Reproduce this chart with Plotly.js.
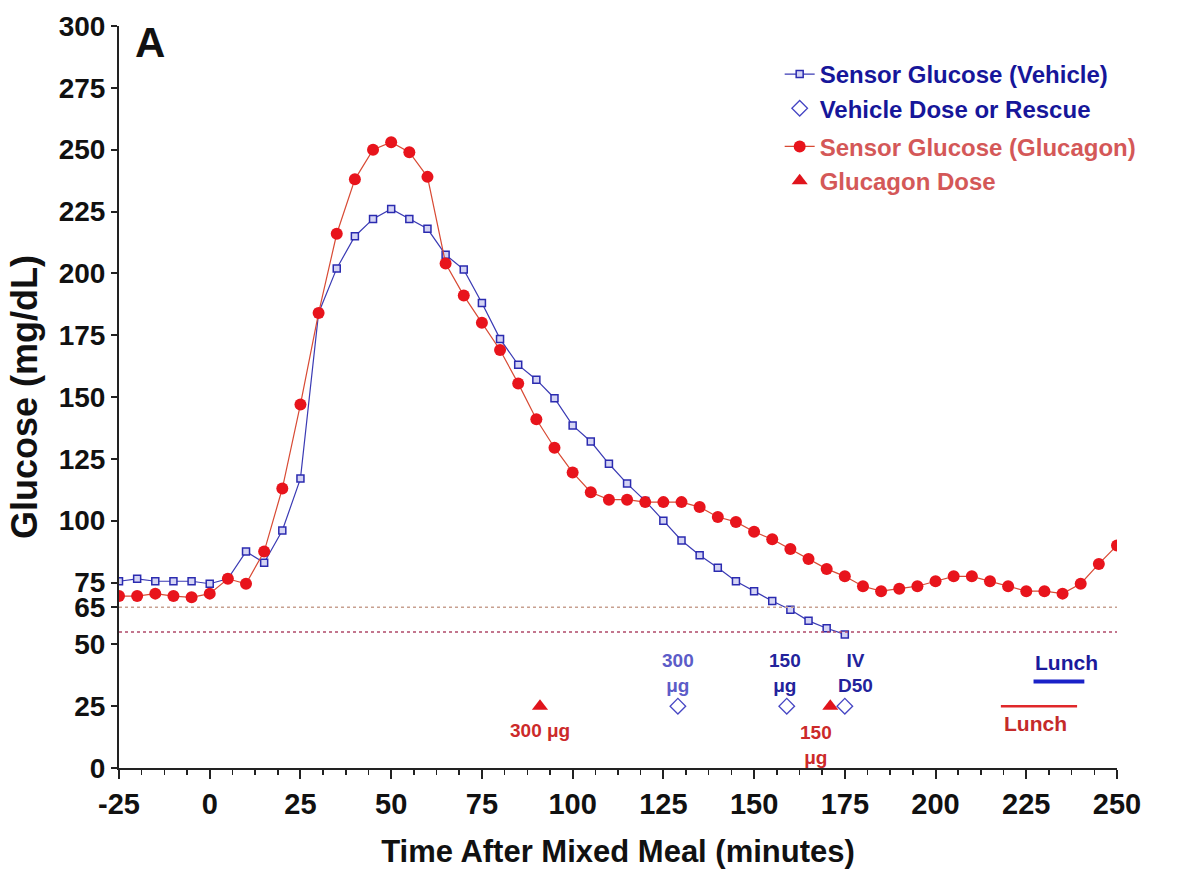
<!DOCTYPE html>
<html>
<head>
<meta charset="utf-8">
<script src="https://cdn.plot.ly/plotly-3.0.1.min.js"></script>
<style>html,body{margin:0;padding:0;background:#fff;}#chart{width:1182px;height:871px;}</style>
</head>
<body>
<div id="chart"></div>
<script>
// Time points (minutes after mixed meal)
const vehicleTime = [-25,-20,-15,-10,-5,0,5,10,15,20,25,30,35,40,45,50,55,60,65,70,75,80,85,90,95,100,105,110,115,120,125,130,135,140,145,150,155,160,165,170,175];
const vehicleGlucose = [75.5,76.5,75.5,75.5,75.5,74.5,76.5,87.5,83,96,117,184,202,215,222,226,222,218,207.5,201.5,188,173.5,163,157,149.5,138.5,132,123,115,108,100,92,86,81,75.5,71.5,67.5,64,59.5,56.5,54];

const glucagonTime = [-25,-20,-15,-10,-5,0,5,10,15,20,25,30,35,40,45,50,55,60,65,70,75,80,85,90,95,100,105,110,115,120,125,130,135,140,145,150,155,160,165,170,175,180,185,190,195,200,205,210,215,220,225,230,235,240,245,250];
const glucagonGlucose = [69.5,69.5,70.5,69.5,69,70.5,76.5,74.5,87.5,113,147,184,216,238,250,253,249,239,204,191,180,169,155.5,141,129.5,119.5,111.5,108.5,108.5,107.5,107.5,107.5,105.5,101.5,99.5,95.5,92.5,88.5,84.5,80.5,77.5,73.5,71.5,72.5,73.5,75.5,77.5,77.5,75.5,73.5,71.5,71.5,70.5,74.5,82.5,90];

const vehicleDoseTime = [129,159,175];
const vehicleDoseLevel = [25,25,25];
const glucagonDoseTime = [91,171];
const glucagonDoseLevel = [25,25];

const vehicleLunchTime = [227,241];
const vehicleLunchLevel = [35,35];
const glucagonLunchTime = [218,239];
const glucagonLunchLevel = [25,25];

const thresholdLevels = [65,55];
const xTickVals = [-25,0,25,50,75,100,125,150,175,200,225,250];
const yTickVals = [0,25,50,65,75,100,125,150,175,200,225,250,275,300];

const FONT = 'Liberation Sans, Arial, sans-serif';
const BLUE_TXT = '#16169a';
const RED_TXT = '#d45858';

const traces = [
  {
    x: vehicleTime, y: vehicleGlucose, mode: 'lines+markers', type: 'scatter',
    name: '<span style="color:' + BLUE_TXT + '">Sensor Glucose (Vehicle)</span>',
    legendgroup: 'veh',
    line: {color: '#3a3ab4', width: 1.2},
    marker: {symbol: 'square', size: 7, color: '#d4d4f4', line: {color: '#2b2bb0', width: 1.5}}
  },
  {
    x: vehicleDoseTime, y: vehicleDoseLevel, mode: 'markers', type: 'scatter',
    name: '<span style="color:' + BLUE_TXT + '">Vehicle Dose or Rescue</span>',
    legendgroup: 'veh',
    marker: {symbol: 'diamond-open', size: 12, color: '#4646c4', line: {width: 1.3}}
  },
  {
    x: glucagonTime, y: glucagonGlucose, mode: 'lines+markers', type: 'scatter',
    name: '<span style="color:' + RED_TXT + '">Sensor Glucose (Glucagon)</span>',
    legendgroup: 'glu',
    line: {color: '#d84a34', width: 1.2},
    marker: {symbol: 'circle', size: 12, color: '#e8141c'}
  },
  {
    x: glucagonDoseTime, y: glucagonDoseLevel, mode: 'markers', type: 'scatter',
    name: '<span style="color:' + RED_TXT + '">Glucagon Dose</span>',
    legendgroup: 'glu',
    marker: {symbol: 'triangle-up', size: 14, color: '#e0141c'}
  },
  {
    x: vehicleLunchTime, y: vehicleLunchLevel, mode: 'lines', type: 'scatter',
    showlegend: false, line: {color: '#1a22c8', width: 4}, hoverinfo: 'skip'
  },
  {
    x: glucagonLunchTime, y: glucagonLunchLevel, mode: 'lines', type: 'scatter',
    showlegend: false, line: {color: '#e0282a', width: 2.5}, hoverinfo: 'skip'
  }
];

const shapes = [
  {type: 'line', xref: 'x', yref: 'y', x0: -25, x1: 250, y0: thresholdLevels[0], y1: thresholdLevels[0],
   line: {color: '#c8a090', width: 1.5, dash: 'dot'}},
  {type: 'line', xref: 'x', yref: 'y', x0: -25, x1: 250, y0: thresholdLevels[1], y1: thresholdLevels[1],
   line: {color: '#b04a6a', width: 1.5, dash: 'dot'}}
];

function ann(x, y, text, color, size) {
  return {x: x, y: y, xref: 'x', yref: 'y', text: text, showarrow: false,
    xanchor: 'center', yanchor: 'middle',
    font: {family: FONT, size: size || 19, color: color, weight: 'bold'}};
}

const annotations = [
  {x: 0.014, y: 1.012, xref: 'paper', yref: 'paper', text: 'A', showarrow: false,
   xanchor: 'left', yanchor: 'top', font: {family: FONT, size: 42, color: '#111', weight: 'bold'}},
  ann(91, 15, '300 μg', '#cc2a2a'),
  ann(129, 38.5, '300<br>μg', '#5c5cc8'),
  ann(158.5, 38.5, '150<br>μg', '#23239c'),
  ann(178, 38.5, 'IV<br>D50', '#23239c'),
  ann(167, 9.5, '150<br>μg', '#cc2a2a'),
  ann(236, 42.5, 'Lunch', '#1a1a9c', 21),
  ann(227.5, 17.8, 'Lunch', '#c42a2a', 21)
];

const layout = {
  width: 1182, height: 871,
  margin: {l: 119, r: 65, t: 26, b: 103},
  paper_bgcolor: '#ffffff', plot_bgcolor: '#ffffff',
  font: {family: FONT, color: '#111'},
  showlegend: true,
  legend: {
    x: 0.662, y: 0.965, xanchor: 'left', yanchor: 'top',
    traceorder: 'grouped', tracegroupgap: 4,
    bgcolor: 'rgba(0,0,0,0)',
    font: {family: FONT, size: 24, weight: 'bold'},
    itemwidth: 30
  },
  xaxis: {
    range: [-25, 250], tickvals: xTickVals, ticktext: xTickVals.map(String),
    showgrid: false, zeroline: false, showline: true, linecolor: '#222', linewidth: 2,
    ticks: 'outside', ticklen: 9, tickwidth: 2, tickcolor: '#222',
    minor: {dtick: 6.25, tick0: -25, ticks: 'outside', ticklen: 5, tickwidth: 1.5, tickcolor: '#222', showgrid: false},
    tickfont: {family: FONT, size: 29, color: '#111', weight: 'bold'},
    title: {text: 'Time After Mixed Meal (minutes)', standoff: 22,
      font: {family: FONT, size: 31, color: '#111', weight: 'bold'}}
  },
  yaxis: {
    range: [0, 300], tickvals: yTickVals, ticktext: yTickVals.map(String),
    showgrid: false, zeroline: false, showline: true, linecolor: '#222', linewidth: 2,
    ticks: 'outside', ticklen: 6, tickwidth: 2, tickcolor: '#222',
    tickfont: {family: FONT, size: 28, color: '#111', weight: 'bold'},
    title: {text: 'Glucose (mg/dL)', standoff: 10,
      font: {family: FONT, size: 36, color: '#111', weight: 'bold'}}
  },
  shapes: shapes,
  annotations: annotations
};

Plotly.newPlot('chart', traces, layout, {displayModeBar: false, staticPlot: true});
</script>
</body>
</html>
